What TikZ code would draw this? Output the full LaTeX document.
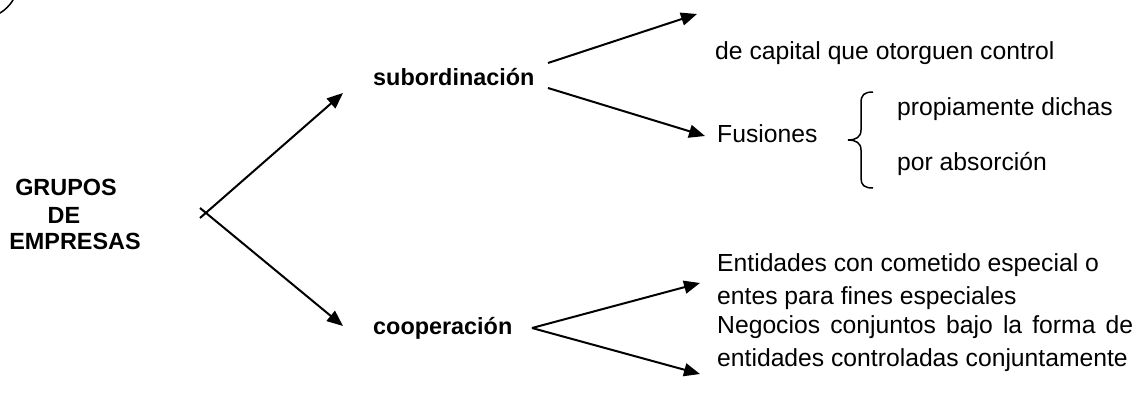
\documentclass[tikz,border=0pt]{standalone}
\usepackage{fontspec}
\setmainfont{Liberation Sans}
\usetikzlibrary{arrows.meta}
\begin{document}
\begin{tikzpicture}[x=1pt,y=-1pt,
  conn/.style={line width=2pt,-{Triangle[length=16pt,width=13pt]}},
  lbl/.style={inner sep=0pt, anchor=base west, font=\fontsize{24.7}{28}\selectfont},
  bld/.style={inner sep=0pt, anchor=base west, font=\fontsize{23.4}{27}\selectfont\bfseries},
  bldc/.style={inner sep=0pt, anchor=base, font=\fontsize{23.4}{27}\selectfont\bfseries}]
\useasboundingbox (0,0) rectangle (1141,394);
% corner arc
\draw[line width=1.5pt] (-20,-20) circle (38.6);
% left title
\node[bldc] (g1) at (66,195) {GRUPOS};
\node[bldc] (g2) at (64,223) {DE};
\node[bldc] (g3) at (75,249) {EMPRESAS};
% level 1
\node[bld] (sub) at (373,85) {subordinación};
\node[bld] (coop) at (373,334) {cooperación};
% level 2
\node[lbl] (cap) at (715,59) {de capital que otorguen control};
\node[lbl] (fus) at (717,142) {Fusiones};
\node[lbl] (prop) at (897,115) {propiamente dichas};
\node[lbl] (abs) at (897,170) {por absorción};
\node[lbl] (e1) at (717,271) {Entidades con cometido especial o};
\node[lbl] (e2) at (717,304) {entes para fines especiales};
\node[lbl] (n1) at (717,333) {\makebox[416pt][s]{Negocios conjuntos bajo la forma de}};
\node[lbl] (n2) at (717,366) {entidades controladas conjuntamente};
% connector coordinates
\coordinate (xa) at (200,218);
\coordinate (xb) at (200,208);
\coordinate (ta) at (343,93);
\coordinate (tb) at (343,326);
\coordinate (sa) at (548,63);
\coordinate (sb) at (548,88);
\coordinate (tc) at (697,14);
\coordinate (td) at (705,136);
\coordinate (ca) at (532,328);
\coordinate (te) at (700,283);
\coordinate (tf) at (700,374);
\draw[conn] (xa) -- (ta);
\draw[conn] (xb) -- (tb);
\draw[conn] (sa) -- (tc);
\draw[conn] (sb) -- (td);
\draw[conn] (ca) -- (te);
\draw[conn] (ca) -- (tf);
% brace
\draw[line width=1.5pt] (873,92) .. controls (864,92) and (861,95) .. (861,103)
  -- (861,130) .. controls (861,137) and (856,140) .. (848,140)
  .. controls (856,140) and (861,143) .. (861,150)
  -- (861,178) .. controls (861,185) and (864,188) .. (873,188);
\end{tikzpicture}
\end{document}
